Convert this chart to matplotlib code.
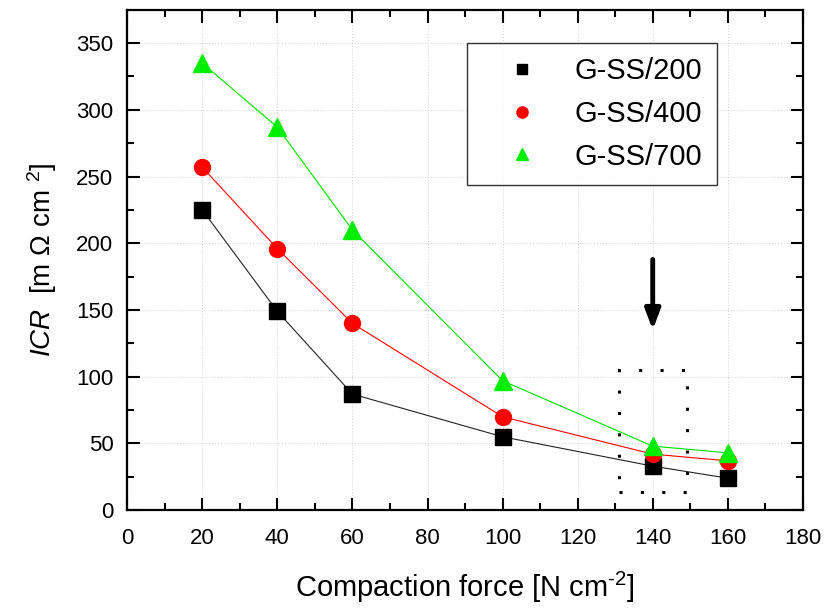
import numpy as np
import matplotlib.pyplot as plt
from matplotlib.patches import Rectangle

plt.rcParams['font.family'] = ['Liberation Sans', 'DejaVu Sans']
plt.rcParams['mathtext.fontset'] = 'custom'
plt.rcParams['mathtext.rm'] = 'Liberation Sans'
plt.rcParams['mathtext.it'] = 'Liberation Sans:italic'

force = [20, 40, 60, 100, 140, 160]
icr_200 = [225, 149, 87, 55, 33, 24]
icr_400 = [257, 196, 140, 70, 42, 37]
icr_700 = [335, 287, 210, 97, 48, 43]
labels = ['G-SS/200', 'G-SS/400', 'G-SS/700']

fig = plt.figure(figsize=(8.26, 6.11), dpi=100)
ax = fig.add_axes([0.154, 0.165, 0.818, 0.819])

ax.plot(force, icr_200, color='#222222', lw=0.8, marker='s', ms=11,
        mfc='black', mec='black', label=labels[0])
ax.plot(force, icr_400, color='red', lw=0.8, marker='o', ms=11.5,
        mfc='red', mec='red', label=labels[1])
ax.plot(force, icr_700, color='#00e000', lw=0.8, marker='^', ms=13,
        mfc='#00ee00', mec='#00ee00', label=labels[2])

ax.set_xlim(0, 180)
ax.set_ylim(0, 375)
ax.set_xticks(np.arange(0, 181, 20))
ax.set_yticks(np.arange(0, 351, 50))
ax.set_xticks(np.arange(10, 180, 20), minor=True)
ax.set_yticks(np.arange(25, 375, 50), minor=True)
ax.tick_params(which='both', direction='in', top=True, right=True, width=1.5)
ax.tick_params(which='major', length=9, labelsize=16)
ax.tick_params(axis='x', pad=13)
ax.tick_params(axis='y', pad=10)
ax.tick_params(which='minor', length=5)
for s in ax.spines.values():
    s.set_linewidth(1.6)
ax.grid(True, which='major', color='#d0d0d0', ls=(0, (1, 2)), lw=0.7)

ax.set_xlabel(r'Compaction force [N cm$^{\text{-}2}$]', fontsize=21, labelpad=15)
ax.set_ylabel(r'$\mathit{ICR}$  [m $\Omega$ cm $^{2}$]', fontsize=20, labelpad=12)

# dotted box around the 140 point
ax.add_patch(Rectangle((131, 14), 18, 91, fill=False, ec='black',
                       ls=(0, (1, 6)), lw=2.2))
ax.annotate('', xy=(140, 133), xytext=(140, 190),
            arrowprops=dict(arrowstyle='-|>,head_length=1.2,head_width=0.45',
                            color='black', lw=3.5))

leg = ax.legend(loc='upper right', bbox_to_anchor=(0.873, 0.934), fontsize=21,
                markerscale=0.7, handlelength=2.8, handletextpad=0.4,
                borderpad=0.5, labelspacing=0.5, borderaxespad=0,
                fancybox=False, frameon=True)
leg.get_frame().set_edgecolor('black')
leg.get_frame().set_linewidth(1.0)
for line in leg.get_lines():
    line.set_linestyle('none')

fig.savefig('out.png', dpi=100)
